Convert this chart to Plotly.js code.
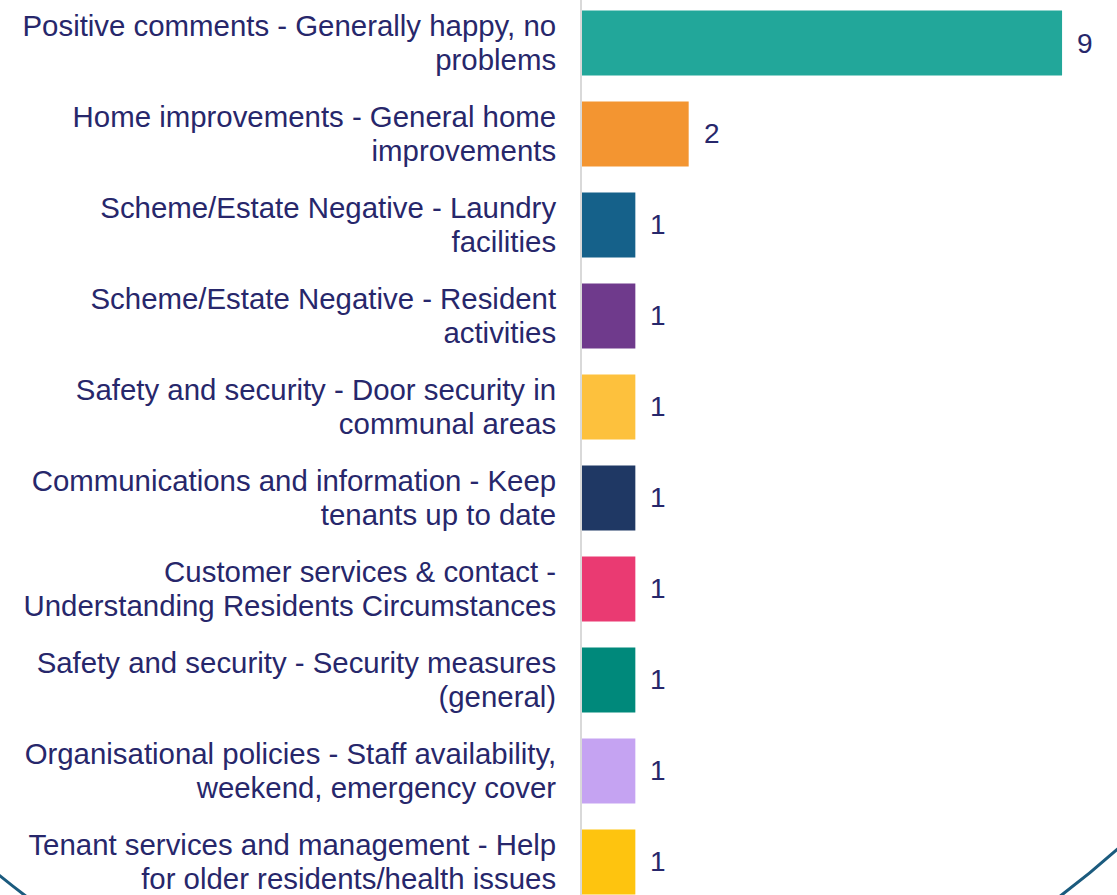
<!DOCTYPE html>
<html>
<head>
<meta charset="utf-8">
<script src="https://cdn.plot.ly/plotly-3.0.1.min.js"></script>
<style>html,body{margin:0;padding:0;background:#fff;}#chart{width:1117px;height:895px;}</style>
</head>
<body>
<div id="chart"></div>
<script>
var categories = [
  "Positive comments - Generally happy, no<br>problems",
  "Home improvements - General home<br>improvements",
  "Scheme/Estate Negative - Laundry<br>facilities",
  "Scheme/Estate Negative - Resident<br>activities",
  "Safety and security - Door security in<br>communal areas",
  "Communications and information - Keep<br>tenants up to date",
  "Customer services & contact -<br>Understanding Residents Circumstances",
  "Safety and security - Security measures<br>(general)",
  "Organisational policies - Staff availability,<br>weekend, emergency cover",
  "Tenant services and management - Help<br>for older residents/health issues"
];
var counts = [9, 2, 1, 1, 1, 1, 1, 1, 1, 1];
var barColors = ["#22a79a", "#f39531", "#15618a", "#6f3a8c", "#fdc13d", "#1f3864", "#ea3a72", "#00897b", "#c5a3f2", "#fec40f"];

var W = 1117, H = 895, L = 582, R = 0, T = 0, B = 0;
var textColor = "#27276b";
var font = "Liberation Sans, Arial, sans-serif";

var trace = {
  type: "bar",
  orientation: "h",
  x: counts,
  y: categories,
  marker: {color: barColors},
  hoverinfo: "x+y"
};

var annotations = counts.map(function (v, i) {
  return {
    x: v, y: categories[i], xref: "x", yref: "y",
    text: String(v), showarrow: false, xanchor: "left", yanchor: "middle",
    xshift: 13, font: {family: font, size: 28, color: textColor}
  };
});

var pw = W - L - R, ph = H - T - B;
function px(x) { return (x - L) / pw; }
function py(y) { return 1 - (y - T) / ph; }
var cx = 543, cy = 205, rad = 863;

var layout = {
  width: W, height: H,
  margin: {l: L, r: R, t: T, b: B, pad: 0},
  paper_bgcolor: "#ffffff",
  plot_bgcolor: "#ffffff",
  showlegend: false,
  bargap: 0.286,
  font: {family: font, size: 29.4, color: textColor},
  xaxis: {range: [0, 10.03], showgrid: false, zeroline: false, showticklabels: false, showline: false, fixedrange: true},
  yaxis: {
    type: "category",
    range: [9.363, -0.4725],
    showgrid: false, zeroline: false,
    showline: true, linecolor: "#d9d9d9", linewidth: 2,
    ticks: "", ticklabelstandoff: 18,
    tickfont: {family: font, size: 29.4, color: textColor},
    fixedrange: true
  },
  annotations: annotations,
  shapes: [{
    type: "circle", xref: "paper", yref: "paper",
    x0: px(cx - rad), x1: px(cx + rad), y0: py(cy + rad), y1: py(cy - rad),
    line: {color: "#1b5b7e", width: 3}, fillcolor: "rgba(0,0,0,0)", layer: "above"
  }]
};

Plotly.newPlot("chart", [trace], layout, {displayModeBar: false, staticPlot: true}).then(function (gd) {
  // tighten the line spacing of the two-line category labels (reference uses ~1.16em)
  var texts = gd.querySelectorAll(".ytick text");
  texts.forEach(function (t) {
    var lines = t.querySelectorAll("tspan.line");
    if (lines.length !== 2) return;
    var absolute = lines[1].hasAttribute("y");
    var d0 = parseFloat(lines[0].getAttribute("dy") || "0") || 0;
    var d1 = parseFloat(lines[1].getAttribute("dy") || "1.3") || 1.3;
    var spacing = 1.16;
    var shift = (1.3 - spacing) / 2;
    lines[0].setAttribute("dy", (d0 + shift) + "em");
    if (absolute) {
      lines[1].setAttribute("dy", (d1 - shift) + "em");
    } else {
      lines[1].setAttribute("dy", spacing + "em");
    }
  });
});
</script>
</body>
</html>
